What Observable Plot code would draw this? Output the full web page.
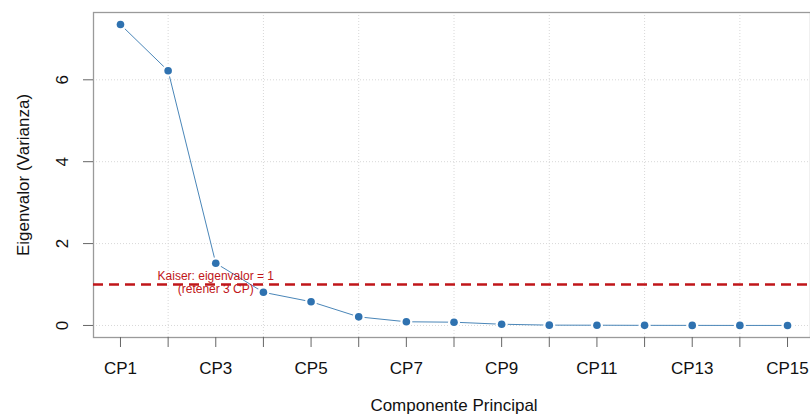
<!DOCTYPE html>
<html>
<head>
<meta charset="utf-8">
<script src="https://cdn.jsdelivr.net/npm/d3@7"></script>
<script src="https://cdn.jsdelivr.net/npm/@observablehq/plot@0.6"></script>
<style>
  html, body { margin: 0; padding: 0; background: #fff; overflow: hidden; }
  svg { display: block; }
</style>
</head>
<body>
<div id="chart"></div>
<script>
const categories = ["CP1","CP2","CP3","CP4","CP5","CP6","CP7","CP8","CP9","CP10","CP11","CP12","CP13","CP14","CP15"];
const eigenvalues = [7.35, 6.22, 1.52, 0.81, 0.58, 0.21, 0.09, 0.08, 0.03, 0.008, 0.006, 0.003, 0.002, 0.001, 0.0005];
const labeledTicks = ["CP1","CP3","CP5","CP7","CP9","CP11","CP13","CP15"];
const gridCats = ["CP2","CP4","CP6","CP8","CP10","CP12","CP14"];
const yTicks = [0, 2, 4, 6];
const kaiser = 1;
const kaiserLabel = "Kaiser: eigenvalor = 1\n(retener 3 CP)";
const xTitle = "Componente Principal";
const yTitle = "Eigenvalor (Varianza)";

const data = categories.map((c, i) => ({cp: c, v: eigenvalues[i]}));
const font = "Liberation Sans, Arial, sans-serif";

const chart = Plot.plot({
  width: 810,
  height: 415,
  marginLeft: 93,
  marginRight: 0,
  marginTop: 12,
  marginBottom: 78,
  style: {fontFamily: font, background: "#fff"},
  x: {type: "point", domain: categories, range: [93.3, 813.7], padding: 0.56, round: false},
  y: {domain: [-0.294, 7.644]},
  marks: [
    Plot.gridX(gridCats, {stroke: "#d8d8d8", strokeOpacity: 1, strokeDasharray: "1,2"}),
    Plot.gridY(yTicks, {stroke: "#d8d8d8", strokeOpacity: 1, strokeDasharray: "1,2"}),
    Plot.frame({stroke: "#9a9a9a", strokeWidth: 1.3}),
    Plot.axisX({ticks: categories, tickSize: 10, tickPadding: 0, tickFormat: () => "", stroke: "#666", label: null}),
    Plot.text(labeledTicks, {x: d => d, frameAnchor: "bottom", lineAnchor: "middle", textAnchor: "middle", dy: 31, fontSize: 17, fill: "#111"}),
    Plot.axisY({ticks: yTicks, tickSize: 10, tickFormat: () => "", stroke: "#666", label: null}),
    Plot.text(yTicks, {y: d => d, text: d => String(d), frameAnchor: "left", lineAnchor: "middle", textAnchor: "middle", dx: -31, rotate: -90, fontSize: 17, fill: "#111"}),
    Plot.text([xTitle], {frameAnchor: "bottom", lineAnchor: "middle", textAnchor: "middle", dx: 2, dy: 68, fontSize: 17, fill: "#111"}),
    Plot.text([yTitle], {frameAnchor: "left", lineAnchor: "middle", textAnchor: "middle", dx: -70, rotate: -90, fontSize: 17, fill: "#111"}),
    Plot.ruleY([kaiser], {stroke: "#c0161a", strokeWidth: 2.5, strokeDasharray: "10,6"}),
    Plot.line(data, {x: "cp", y: "v", stroke: "#4a86b8", strokeWidth: 1}),
    Plot.dot(data, {x: "cp", y: "v", r: 6, fill: "#fff", stroke: "none"}),
    Plot.dot(data, {x: "cp", y: "v", r: 3.8, fill: "#2f72b0", stroke: "none"}),
    Plot.text([kaiserLabel], {x: () => "CP3", y: () => kaiser, dy: -2.5, fontSize: 12, fill: "#c0161a", lineHeight: 1.15})
  ]
});
document.getElementById("chart").appendChild(chart);
</script>
</body>
</html>
